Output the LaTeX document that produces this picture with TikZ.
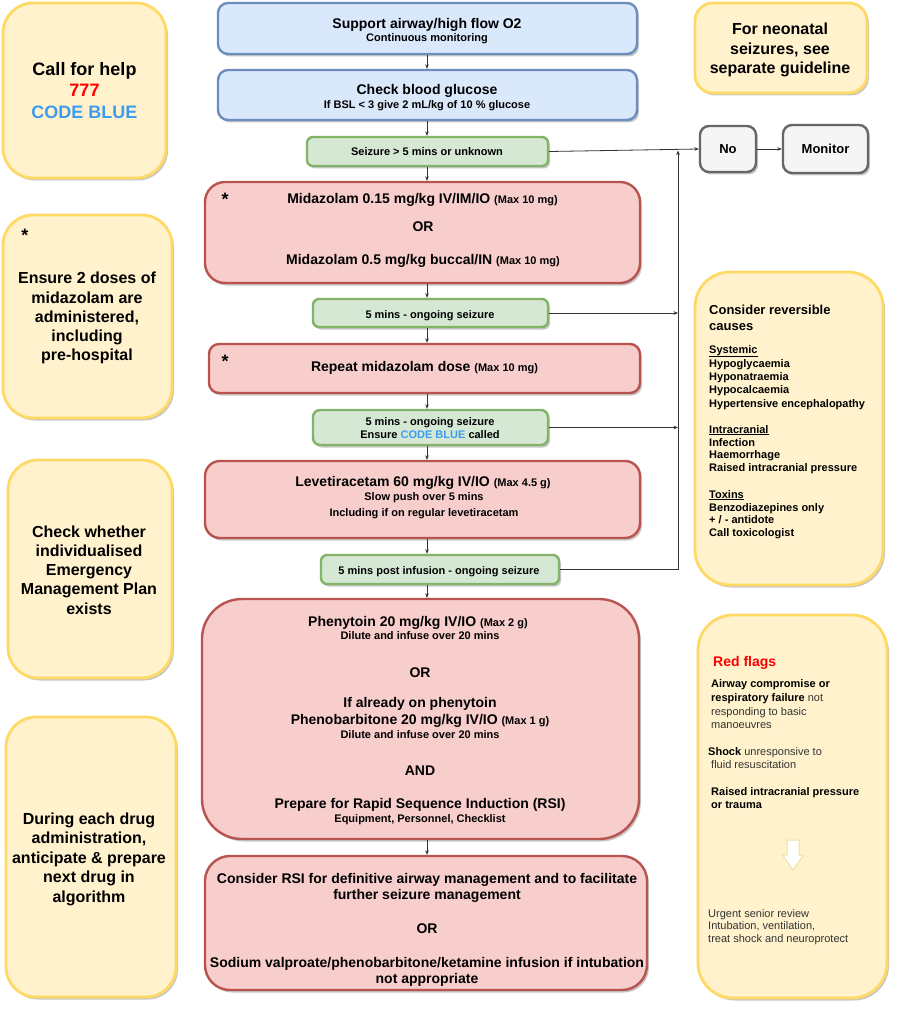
\documentclass[tikz,border=0pt]{standalone}
\usepackage{fontspec}
\setmainfont{Liberation Sans}
\usetikzlibrary{arrows.meta,shadows}
\definecolor{bluefill}{HTML}{DAE8FC}
\definecolor{blueline}{HTML}{6C8EBF}
\definecolor{greenfill}{HTML}{D5E8D4}
\definecolor{greenline}{HTML}{82B366}
\definecolor{redfill}{HTML}{F8CECC}
\definecolor{redline}{HTML}{B85450}
\definecolor{yelfill}{HTML}{FFF2CC}
\definecolor{yelline}{HTML}{FFD966}
\definecolor{grayfill}{HTML}{F5F5F5}
\definecolor{grayline}{HTML}{666666}
\definecolor{codeblue}{HTML}{3D9BF0}
\definecolor{alertred}{HTML}{FF0000}
\definecolor{txtgray}{HTML}{333333}
\definecolor{paleedge}{HTML}{EFE3A0}
\tikzset{
  box/.style={draw, line width=2.4pt, inner sep=0pt,
    drop shadow={shadow xshift=2pt, shadow yshift=-2.5pt, opacity=0.22, fill=black}},
  bluebox/.style={box, draw=blueline, fill=bluefill},
  greenbox/.style={box, draw=greenline, fill=greenfill},
  redbox/.style={box, draw=redline, fill=redfill},
  yelbox/.style={box, line width=2.8pt, draw=yelline, fill=yelfill},
  graybox/.style={box, draw=grayline, fill=grayfill},
  tx/.style={anchor=base, inner sep=0pt},
  t18/.style={tx, font=\fontsize{18}{21}\selectfont\bfseries},
  t16/.style={tx, font=\fontsize{16}{19}\selectfont\bfseries},
  t14/.style={tx, font=\fontsize{14}{16}\selectfont\bfseries},
  t13/.style={tx, font=\fontsize{13}{15}\selectfont\bfseries},
  t11/.style={tx, font=\fontsize{11}{13}\selectfont\bfseries},
  r11/.style={tx, font=\fontsize{11}{13}\selectfont, text=txtgray},
  lt13/.style={t13, anchor=base west},
  lt11/.style={t11, anchor=base west},
  lr11/.style={r11, anchor=base west},
  conn/.style={draw=black!80, line width=0.8pt, -{Stealth[length=4.5pt,width=3.6pt]}},
  plain/.style={draw=black!80, line width=0.8pt},
}
\newcommand{\mx}[1]{{\fontsize{11}{13}\selectfont #1}}
\begin{document}
\begin{tikzpicture}[x=1pt,y=-1pt]
\useasboundingbox (0,0) rectangle (898,1024);
\fill[white] (0,0) rectangle (898,1024);

% ---------- left yellow boxes ----------
\node[yelbox, minimum width=163pt, minimum height=175pt, rounded corners=30pt] (ya) at (84.5,90.5) {};
\node[t18] (ya1) at (84.5,75.5) {Call for help};
\node[t18, text=alertred] (ya2) at (84.5,96.5) {777};
\node[t18, text=codeblue] (ya3) at (84.5,118.5) {CODE BLUE};

\node[yelbox, minimum width=169pt, minimum height=203pt, rounded corners=30pt] (yb) at (87.5,316.5) {};
\node[t18] (ybs) at (25,241) {*};
\node[t16] (yb1) at (87,283) {Ensure 2 doses of};
\node[t16] (yb2) at (87,303) {midazolam are};
\node[t16] (yb3) at (87,322) {administered,};
\node[t16] (yb4) at (87,341) {including};
\node[t16] (yb5) at (87,360) {pre-hospital};

\node[yelbox, minimum width=164pt, minimum height=218pt, rounded corners=30pt] (yc) at (90,569) {};
\node[t16] (yc1) at (89,537) {Check whether};
\node[t16] (yc2) at (89,556) {individualised};
\node[t16] (yc3) at (89,575) {Emergency};
\node[t16] (yc4) at (89,594) {Management Plan};
\node[t16] (yc5) at (89,614) {exists};

\node[yelbox, minimum width=170pt, minimum height=280pt, rounded corners=30pt] (yd) at (91,857) {};
\node[t16] (yd1) at (89,824) {During each drug};
\node[t16] (yd2) at (89,843) {administration,};
\node[t16] (yd3) at (89,863) {anticipate \& prepare};
\node[t16] (yd4) at (89,882) {next drug in};
\node[t16] (yd5) at (89,902) {algorithm};

% ---------- middle column ----------
\node[bluebox, minimum width=419pt, minimum height=51pt, rounded corners=10pt] (b1) at (427.5,28.5) {};
\node[t14] (b1a) at (427,29) {Support airway/high flow O2};
\node[t11] (b1b) at (427,42) {Continuous monitoring};

\node[bluebox, minimum width=419pt, minimum height=50pt, rounded corners=10pt] (b2) at (427.5,95) {};
\node[t14] (b2a) at (427,95) {Check blood glucose};
\node[t11] (b2b) at (427,109) {If BSL < 3 give 2 mL/kg of 10 \% glucose};

\node[greenbox, minimum width=241pt, minimum height=29pt, rounded corners=6pt] (g1) at (427.5,151.5) {};
\node[t11] (g1a) at (427,156) {Seizure > 5 mins or unknown};

\node[redbox, minimum width=435pt, minimum height=101pt, rounded corners=20pt] (r1) at (422.5,232.5) {};
\node[t18] (r1s) at (225,206) {*};
\node[t14] (r1a) at (422.5,204) {Midazolam 0.15 mg/kg IV/IM/IO \mx{(Max 10 mg)}};
\node[t14] (r1b) at (423,232) {OR};
\node[t14] (r1c) at (423,264) {Midazolam 0.5 mg/kg buccal/IN \mx{(Max 10 mg)}};

\node[greenbox, minimum width=235pt, minimum height=28pt, rounded corners=6pt] (g2) at (430.5,313) {};
\node[t11] (g2a) at (430,318) {5 mins - ongoing seizure};

\node[redbox, minimum width=431pt, minimum height=49pt, rounded corners=10pt] (r2) at (424.5,368.5) {};
\node[t18] (r2s) at (225,367) {*};
\node[t14] (r2a) at (424.5,371) {Repeat midazolam dose \mx{(Max 10 mg)}};

\node[greenbox, minimum width=235pt, minimum height=35pt, rounded corners=7pt] (g3) at (430.5,427.5) {};
\node[t11] (g3a) at (430,425) {5 mins - ongoing seizure};
\node[t11] (g3b) at (430,438) {Ensure {\color{codeblue}CODE BLUE} called};

\node[redbox, minimum width=435pt, minimum height=77pt, rounded corners=15pt] (r3) at (422.5,499.5) {};
\node[t14] (r3a) at (423,486) {Levetiracetam 60 mg/kg IV/IO \mx{(Max 4.5 g)}};
\node[t11] (r3b) at (424,500) {Slow push over 5 mins};
\node[t11] (r3c) at (424,516) {Including if on regular levetiracetam};

\node[greenbox, minimum width=238pt, minimum height=29pt, rounded corners=6pt] (g4) at (440,569.5) {};
\node[t11] (g4a) at (439,574) {5 mins post infusion - ongoing seizure};

\node[redbox, minimum width=437pt, minimum height=240pt, rounded corners=40pt] (r4) at (420.5,719) {};
\node[t14] (r4a) at (418,626) {Phenytoin 20 mg/kg IV/IO \mx{(Max 2 g)}};
\node[t11] (r4b) at (420,639) {Dilute and infuse over 20 mins};
\node[t14] (r4c) at (420,677) {OR};
\node[t14] (r4d) at (420,707) {If already on phenytoin};
\node[t14] (r4e) at (420,724) {Phenobarbitone 20 mg/kg IV/IO \mx{(Max 1 g)}};
\node[t11] (r4f) at (420,738) {Dilute and infuse over 20 mins};
\node[t14] (r4g) at (420,775) {AND};
\node[t14] (r4h) at (420,808) {Prepare for Rapid Sequence Induction (RSI)};
\node[t11] (r4i) at (420,822) {Equipment, Personnel, Checklist};

\node[redbox, minimum width=442pt, minimum height=134pt, rounded corners=25pt] (r5) at (426,923) {};
\node[t14] (r5a) at (427,883) {Consider RSI for definitive airway management and to facilitate};
\node[t14] (r5b) at (427,899) {further seizure management};
\node[t14] (r5c) at (427,933) {OR};
\node[t14] (r5d) at (427,967) {Sodium valproate/phenobarbitone/ketamine infusion if intubation};
\node[t14] (r5e) at (427,983) {not appropriate};

% ---------- right column ----------
\node[yelbox, minimum width=172pt, minimum height=90pt, rounded corners=18pt] (yn) at (781,48) {};
\node[t16] (yn1) at (780,35) {For neonatal};
\node[t16] (yn2) at (780,55) {seizures, see};
\node[t16] (yn3) at (780,74) {separate guideline};

\node[graybox, minimum width=56pt, minimum height=46pt, rounded corners=9pt] (no) at (728,149) {};
\node[t13] (noa) at (728,153.5) {No};
\node[graybox, minimum width=85pt, minimum height=48pt, rounded corners=9pt] (mon) at (825.5,149) {};
\node[t13] (mona) at (825.5,153.5) {Monitor};

\node[yelbox, minimum width=188pt, minimum height=313pt, rounded corners=35pt] (rc) at (789,428.5) {};
\node[lt13] (rc1) at (709,314) {Consider reversible};
\node[lt13] (rc2) at (709,330) {causes};
\node[lt11] (rc3) at (709,353) {\underline{Systemic}};
\node[lt11] (rc4) at (709,367) {Hypoglycaemia};
\node[lt11] (rc5) at (709,380) {Hyponatraemia};
\node[lt11] (rc6) at (709,393) {Hypocalcaemia};
\node[lt11] (rc7) at (709,407) {Hypertensive encephalopathy};
\node[lt11] (rc8) at (709,433) {\underline{Intracranial}};
\node[lt11] (rc9) at (709,446) {Infection};
\node[lt11] (rc10) at (709,458) {Haemorrhage};
\node[lt11] (rc11) at (709,471) {Raised intracranial pressure};
\node[lt11] (rc12) at (709,498) {\underline{Toxins}};
\node[lt11] (rc13) at (709,511) {Benzodiazepines only};
\node[lt11] (rc14) at (709,523) {+ / - antidote};
\node[lt11] (rc15) at (709,536) {Call toxicologist};

\node[yelbox, minimum width=189pt, minimum height=383pt, rounded corners=35pt] (rf) at (792.5,806.5) {};
\node[t14, anchor=base west, text=alertred] (rf1) at (713,666) {Red flags};
\node[lt11] (rf2) at (711,687) {Airway compromise or};
\node[lr11] (rf3) at (711,701) {{\bfseries\color{black}respiratory failure} not};
\node[lr11] (rf4) at (711,715) {responding to basic};
\node[lr11] (rf5) at (711,728) {manoeuvres};
\node[lr11] (rf6) at (708,755) {{\bfseries\color{black}Shock} unresponsive to};
\node[lr11] (rf7) at (711,768) {fluid resuscitation};
\node[lt11] (rf8) at (711,795) {Raised intracranial pressure};
\node[lt11] (rf9) at (711,808) {or trauma};
\draw[draw=paleedge, fill=white, line width=1pt, line join=round]
  (787,840) -- (799,840) -- (799,855) -- (803.5,855) -- (793,870) -- (782.5,855) -- (787,855) -- cycle;
\node[lr11] (rf10) at (708,917) {Urgent senior review};
\node[lr11] (rf11) at (708,929) {Intubation, ventilation,};
\node[lr11] (rf12) at (708,942) {treat shock and neuroprotect};

% ---------- connectors ----------
\coordinate (ax) at (427,0);
\coordinate (vx) at (678,0);
\coordinate (vtop) at (678,150.5);
\draw[conn] (b1.south -| ax) -- (b2.north -| ax);
\draw[conn] (b2.south -| ax) -- (g1.north -| ax);
\draw[conn] (g1.south -| ax) -- (r1.north -| ax);
\draw[conn] (r1.south -| ax) -- (g2.north -| ax);
\draw[conn] (g2.south -| ax) -- (r2.north -| ax);
\draw[conn] (r2.south -| ax) -- (g3.north -| ax);
\draw[conn] (g3.south -| ax) -- (r3.north -| ax);
\draw[conn] (r3.south -| ax) -- (g4.north -| ax);
\draw[conn] (g4.south -| ax) -- (r4.north -| ax);
\draw[conn] (r4.south -| ax) -- (r5.north -| ax);
\draw[conn] (g1.east) -- (no.west);
\draw[conn] (no.east) -- (mon.west);
\draw[conn] (g2.east) -- (g2.east -| vx);
\draw[conn] (g3.east) -- (g3.east -| vx);
\draw[conn] (g4.east) -| (vtop);
\end{tikzpicture}
\end{document}
